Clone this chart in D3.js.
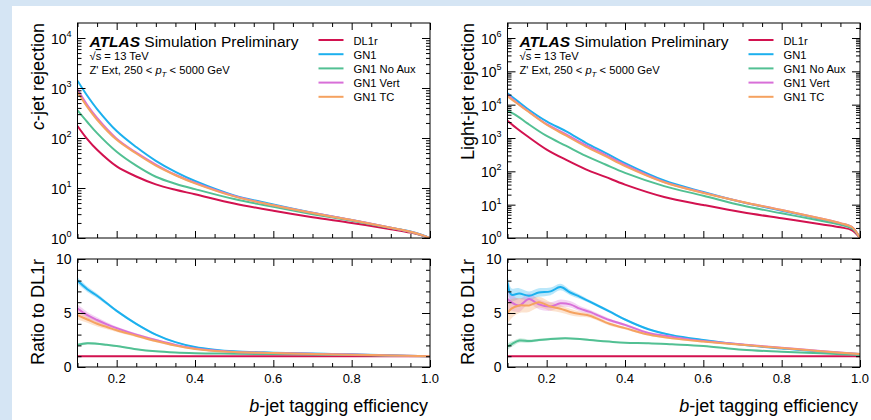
<!DOCTYPE html>
<html>
<head>
    <meta charset="utf-8" />
    <style>
        body { margin: 0; background: #d5e5f4; }
        svg { display: block; font-family: "Liberation Sans", Arial, sans-serif; }
    </style>
    <script src="https://d3js.org/d3.v7.min.js"></script>
</head>
<body>
<svg id="chart"></svg>
<script>

/* data */

const effTop = [0.1, 0.125, 0.15, 0.2, 0.25, 0.3, 0.35, 0.4, 0.5, 0.6, 0.7, 0.8, 0.9, 0.95, 0.98, 1.0];

// c-jet rejection (left panel)
const cDL1r  = [174, 95, 58, 27, 17, 11.8, 9.2, 7.5, 4.9, 3.5, 2.6, 2.0, 1.5, 1.28, 1.12, 1.0];
const cGN1   = [1400, 700, 380, 138, 66, 35, 21, 13.8, 7.1, 4.7, 3.2, 2.3, 1.6, 1.35, 1.15, 1.0];
const cNoAux = [357, 209, 125, 53, 28, 16.8, 12.2, 9.5, 6.0, 4.2, 3.0, 2.2, 1.58, 1.32, 1.13, 1.0];
const cVert  = [940, 456, 252, 97, 51, 29.5, 18.4, 12.7, 6.9, 4.5, 3.2, 2.3, 1.6, 1.33, 1.14, 1.0];
const cTC    = [835, 418, 232, 92, 49, 28, 18, 12.4, 6.8, 4.5, 3.15, 2.28, 1.6, 1.33, 1.14, 1.0];

// light-jet rejection (right panel)
const lDL1r  = [3300, 1900, 1150, 450, 220, 115, 68, 40, 17, 9.8, 5.9, 3.9, 2.6, 2.1, 1.7, 1.0];
const lGN1   = [22000, 13000, 7700, 3150, 1580, 720, 360, 176, 53, 24, 11.8, 6.6, 3.7, 2.7, 2.1, 1.0];
const lNoAux = [6600, 4560, 2800, 1150, 580, 290, 160, 90, 36, 18.6, 9.4, 5.5, 3.3, 2.5, 1.9, 1.0];
const lVert  = [19800, 11200, 6800, 2600, 1280, 610, 313, 156, 48, 23, 12.1, 6.9, 3.85, 2.8, 2.1, 1.0];
const lTC    = [17800, 10800, 6550, 2500, 1170, 550, 285, 144, 47, 22.5, 12.1, 6.9, 3.85, 2.8, 2.1, 1.0];

// ratio to DL1r, left
const effRatioL = [0.1, 0.125, 0.15, 0.175, 0.2, 0.25, 0.3, 0.35, 0.4, 0.45, 0.5, 0.6, 0.7, 0.8, 0.9, 1.0];
const cRatDL1r  = [1, 1, 1, 1, 1, 1, 1, 1, 1, 1, 1, 1, 1, 1, 1, 1];
const cRatGN1   = [8.0, 7.2, 6.6, 5.9, 5.2, 4.0, 3.0, 2.3, 1.85, 1.6, 1.45, 1.33, 1.24, 1.17, 1.08, 1.0];
const cRatNoAux = [2.05, 2.2, 2.15, 2.05, 1.95, 1.65, 1.45, 1.34, 1.28, 1.25, 1.23, 1.2, 1.16, 1.1, 1.05, 1.0];
const cRatVert  = [5.4, 4.8, 4.35, 3.95, 3.6, 3.0, 2.5, 2.05, 1.72, 1.52, 1.4, 1.3, 1.22, 1.15, 1.07, 1.0];
const cRatTC    = [4.8, 4.4, 4.0, 3.7, 3.4, 2.9, 2.4, 1.98, 1.67, 1.48, 1.38, 1.29, 1.21, 1.14, 1.07, 1.0];
const cErrGN1   = [0.3, 0.25, 0.2, 0.15, 0.12, 0.1, 0.08, 0.06, 0.05, 0.04, 0.04, 0.03, 0.03, 0.03, 0.03, 0.03];
const cErrNoAux = [0.15, 0.12, 0.1, 0.08, 0.07, 0.06, 0.05, 0.04, 0.03, 0.03, 0.03, 0.03, 0.03, 0.03, 0.03, 0.03];
const cErrVert  = [0.4, 0.3, 0.25, 0.2, 0.15, 0.12, 0.1, 0.08, 0.06, 0.05, 0.04, 0.03, 0.03, 0.03, 0.03, 0.03];
const cErrTC    = [0.4, 0.3, 0.25, 0.2, 0.15, 0.12, 0.1, 0.08, 0.06, 0.05, 0.04, 0.03, 0.03, 0.03, 0.03, 0.03];

// ratio to DL1r, right
const effRatioR = [0.1, 0.11, 0.13, 0.155, 0.18, 0.21, 0.235, 0.26, 0.285, 0.31, 0.36, 0.4, 0.46, 0.52, 0.6, 0.7, 0.8, 0.9, 1.0];
const lRatDL1r  = [1, 1, 1, 1, 1, 1, 1, 1, 1, 1, 1, 1, 1, 1, 1, 1, 1, 1, 1];
const lRatGN1   = [7.8, 6.7, 6.8, 6.6, 6.9, 7.0, 7.4, 6.9, 6.5, 6.05, 5.15, 4.4, 3.5, 2.95, 2.5, 2.05, 1.72, 1.42, 1.2];
const lRatNoAux = [1.9, 2.1, 2.45, 2.4, 2.5, 2.6, 2.65, 2.65, 2.6, 2.5, 2.35, 2.25, 2.2, 2.1, 1.95, 1.6, 1.42, 1.27, 1.1];
const lRatVert  = [6.3, 6.0, 5.7, 6.3, 5.8, 5.6, 5.9, 5.8, 5.4, 5.1, 4.35, 3.9, 3.15, 2.8, 2.4, 2.08, 1.78, 1.48, 1.2];
const lRatTC    = [5.0, 5.4, 5.7, 5.7, 6.0, 5.6, 5.4, 5.1, 4.9, 4.75, 4.0, 3.6, 3.0, 2.65, 2.35, 2.05, 1.76, 1.46, 1.2];
const lErrGN1   = [0.9, 0.6, 0.5, 0.4, 0.4, 0.35, 0.3, 0.25, 0.2, 0.15, 0.12, 0.1, 0.08, 0.07, 0.06, 0.05, 0.05, 0.05, 0.05];
const lErrNoAux = [0.3, 0.25, 0.2, 0.15, 0.12, 0.1, 0.1, 0.08, 0.08, 0.07, 0.06, 0.05, 0.05, 0.04, 0.04, 0.04, 0.04, 0.04, 0.04];
const lErrVert  = [1.0, 0.8, 0.6, 0.5, 0.45, 0.4, 0.35, 0.3, 0.25, 0.2, 0.15, 0.12, 0.1, 0.08, 0.07, 0.06, 0.05, 0.05, 0.05];
const lErrTC    = [1.0, 0.9, 0.7, 0.6, 0.5, 0.4, 0.35, 0.3, 0.25, 0.2, 0.15, 0.12, 0.1, 0.08, 0.07, 0.06, 0.05, 0.05, 0.05];

const seriesNames  = ["DL1r", "GN1", "GN1 No Aux", "GN1 Vert", "GN1 TC"];
const seriesColors = ["#d2124f", "#1cb0ee", "#52c093", "#d86fd8", "#f5a260"];

/* drawing */

const W = 871, H = 420;

let svg = d3.select("#chart")
    .attr("width", W)
    .attr("height", H);

svg.append("rect")
    .attr("x", 12).attr("y", 6)
    .attr("width", W - 12).attr("height", H - 6)
    .attr("fill", "#fff");

function inwardTicks(g, axis) {
    g.call(axis).call(a => a.select(".domain").remove());
    g.selectAll("line").attr("stroke", "#000");
}

function drawPanel(p) {
    let x = d3.scaleLinear().domain([0.1, 1.0]).range([p.left, p.right]);
    let yTop = d3.scaleLog().domain([1, p.yMax]).range([238, 23]);
    let yRat = d3.scaleLinear().domain([0, 10]).range([367, 259]);
    let smooth = d3.curveCatmullRom.alpha(0.5);

    let g = svg.append("g");

    // clips
    g.append("clipPath").attr("id", p.id + "-top")
        .append("rect").attr("x", p.left).attr("y", 23)
        .attr("width", p.right - p.left).attr("height", 215);
    g.append("clipPath").attr("id", p.id + "-rat")
        .append("rect").attr("x", p.left).attr("y", 259)
        .attr("width", p.right - p.left).attr("height", 108);

    // top curves
    let line = d3.line()
        .x((d, i) => x(effTop[i]))
        .y(d => yTop(d))
        .curve(smooth);
    let topG = g.append("g").attr("clip-path", `url(#${p.id}-top)`);
    p.top.forEach((vals, k) => {
        topG.append("path")
            .attr("d", line(vals))
            .attr("fill", "none")
            .attr("stroke", seriesColors[k])
            .attr("stroke-width", 2);
    });

    // ratio bands + curves
    let ratG = g.append("g").attr("clip-path", `url(#${p.id}-rat)`);
    let area = (vals, errs) => d3.area()
        .x((d, i) => x(p.effRatio[i]))
        .y0((d, i) => yRat(vals[i] - errs[i]))
        .y1((d, i) => yRat(vals[i] + errs[i]))
        .curve(smooth)(vals);
    let rline = d3.line()
        .x((d, i) => x(p.effRatio[i]))
        .y(d => yRat(d))
        .curve(smooth);
    p.ratio.forEach((vals, k) => {
        if (p.err[k]) {
            ratG.append("path")
                .attr("d", area(vals, p.err[k]))
                .attr("fill", seriesColors[k])
                .attr("fill-opacity", 0.3);
        }
    });
    p.ratio.forEach((vals, k) => {
        ratG.append("path")
            .attr("d", rline(vals))
            .attr("fill", "none")
            .attr("stroke", seriesColors[k])
            .attr("stroke-width", 2);
    });

    // frames
    [[23, 215], [259, 108]].forEach(([y0, h]) => {
        g.append("rect")
            .attr("x", p.left).attr("y", y0)
            .attr("width", p.right - p.left).attr("height", h)
            .attr("fill", "none").attr("stroke", "#000").attr("stroke-width", 1);
    });

    // x ticks
    let xMajor = [0.2, 0.4, 0.6, 0.8, 1.0];
    let xMinor = x.ticks(18).filter(v => !xMajor.some(m => Math.abs(m - v) < 1e-6));
    [[23, 238], [259, 367]].forEach(([yt, yb]) => {
        inwardTicks(g.append("g").attr("transform", `translate(0,${yt})`),
            d3.axisTop(x).tickValues(xMajor).tickSize(-7).tickFormat(""));
        inwardTicks(g.append("g").attr("transform", `translate(0,${yt})`),
            d3.axisTop(x).tickValues(xMinor).tickSize(-4).tickFormat(""));
        inwardTicks(g.append("g").attr("transform", `translate(0,${yb})`),
            d3.axisBottom(x).tickValues(xMajor).tickSize(-7).tickFormat(""));
        inwardTicks(g.append("g").attr("transform", `translate(0,${yb})`),
            d3.axisBottom(x).tickValues(xMinor).tickSize(-4).tickFormat(""));
    });

    // x tick labels
    g.selectAll(null)
        .data(xMajor)
        .enter().append("text")
        .attr("x", d => x(d))
        .attr("y", 383)
        .attr("text-anchor", "middle")
        .attr("font-size", 13)
        .text(d3.format(".1f"));

    // top y ticks (log)
    let nDec = Math.floor(Math.log10(p.yMax));
    let yMajor = d3.range(0, nDec + 1).map(e => Math.pow(10, e));
    let yMinor = [];
    yMajor.forEach(m => { for (let k = 2; k <= 9; k++) if (m * k <= p.yMax) yMinor.push(m * k); });
    [[p.left, d3.axisLeft], [p.right, d3.axisRight]].forEach(([xx, ax]) => {
        inwardTicks(g.append("g").attr("transform", `translate(${xx},0)`),
            ax(yTop).tickValues(yMajor).tickSize(-8).tickFormat(""));
        inwardTicks(g.append("g").attr("transform", `translate(${xx},0)`),
            ax(yTop).tickValues(yMinor).tickSize(-4).tickFormat(""));
    });
    let lab = g.selectAll(null)
        .data(yMajor)
        .enter().append("text")
        .attr("x", p.left - 6)
        .attr("y", d => yTop(d) + 6)
        .attr("text-anchor", "end")
        .attr("font-size", 14);
    lab.append("tspan").text("10");
    lab.append("tspan").attr("font-size", 9).attr("dy", -7).text(d => Math.round(Math.log10(d)));

    // ratio y ticks
    let rMajor = [0, 5, 10];
    let rMinor = d3.range(1, 10).filter(v => v !== 5);
    [[p.left, d3.axisLeft], [p.right, d3.axisRight]].forEach(([xx, ax]) => {
        inwardTicks(g.append("g").attr("transform", `translate(${xx},0)`),
            ax(yRat).tickValues(rMajor).tickSize(-8).tickFormat(""));
        inwardTicks(g.append("g").attr("transform", `translate(${xx},0)`),
            ax(yRat).tickValues(rMinor).tickSize(-4).tickFormat(""));
    });
    g.selectAll(null)
        .data(rMajor)
        .enter().append("text")
        .attr("x", p.left - 6)
        .attr("y", d => yRat(d) + 5)
        .attr("text-anchor", "end")
        .attr("font-size", 14)
        .text(d => d);

    // axis titles
    g.append("text")
        .attr("transform", `translate(${p.left - 34},23) rotate(-90)`)
        .attr("text-anchor", "end")
        .attr("font-size", 18)
        .call(t => {
            if (p.titleItalic) t.append("tspan").attr("font-style", "italic").text(p.titleItalic);
            t.append("tspan").text(p.title);
        });
    g.append("text")
        .attr("transform", `translate(${p.left - 34},259) rotate(-90)`)
        .attr("text-anchor", "end")
        .attr("font-size", 18)
        .text("Ratio to DL1r");
    g.append("text")
        .attr("x", p.right - 2)
        .attr("y", 412)
        .attr("text-anchor", "end")
        .attr("font-size", 18)
        .call(t => {
            t.append("tspan").attr("font-style", "italic").text("b");
            t.append("tspan").text("-jet tagging efficiency");
        });

    // ATLAS label
    let tx = p.left + 12;
    let a = g.append("text").attr("x", tx).attr("y", 47).attr("font-size", 15.5);
    a.append("tspan").attr("font-weight", "bold").attr("font-style", "italic").text("ATLAS");
    a.append("tspan").text(" Simulation Preliminary");
    let s = g.append("text").attr("x", tx).attr("y", 60).attr("font-size", 11.2);
    s.append("tspan").text("\u221A");
    s.append("tspan").attr("text-decoration", "overline").text("s");
    s.append("tspan").text(" = 13 TeV");
    let z = g.append("text").attr("x", tx).attr("y", 74).attr("font-size", 11.2);
    z.append("tspan").text("Z' Ext, 250 < ");
    z.append("tspan").attr("font-style", "italic").text("p");
    z.append("tspan").attr("font-style", "italic").attr("font-size", 8).attr("dy", 3).text("T");
    z.append("tspan").attr("dy", -3).text(" < 5000 GeV");

    // legend
    let lg = g.append("g").attr("transform", `translate(${p.left + 241},40)`);
    seriesNames.forEach((name, k) => {
        lg.append("line")
            .attr("x1", 0).attr("x2", 25)
            .attr("y1", k * 14.2).attr("y2", k * 14.2)
            .attr("stroke", seriesColors[k]).attr("stroke-width", 2);
        lg.append("text")
            .attr("x", 35).attr("y", k * 14.2 + 4.5)
            .attr("font-size", 11.2)
            .text(name);
    });
}

drawPanel({
    id: "cjet", left: 77.5, right: 430, yMax: Math.pow(10, 4.3),
    titleItalic: "c", title: "-jet rejection",
    top: [cDL1r, cGN1, cNoAux, cVert, cTC],
    effRatio: effRatioL,
    ratio: [cRatDL1r, cRatGN1, cRatNoAux, cRatVert, cRatTC],
    err: [null, cErrGN1, cErrNoAux, cErrVert, cErrTC]
});

drawPanel({
    id: "ljet", left: 507.5, right: 860, yMax: Math.pow(10, 6.45),
    titleItalic: "", title: "Light-jet rejection",
    top: [lDL1r, lGN1, lNoAux, lVert, lTC],
    effRatio: effRatioR,
    ratio: [lRatDL1r, lRatGN1, lRatNoAux, lRatVert, lRatTC],
    err: [null, lErrGN1, lErrNoAux, lErrVert, lErrTC]
});

</script>
</body>
</html>
